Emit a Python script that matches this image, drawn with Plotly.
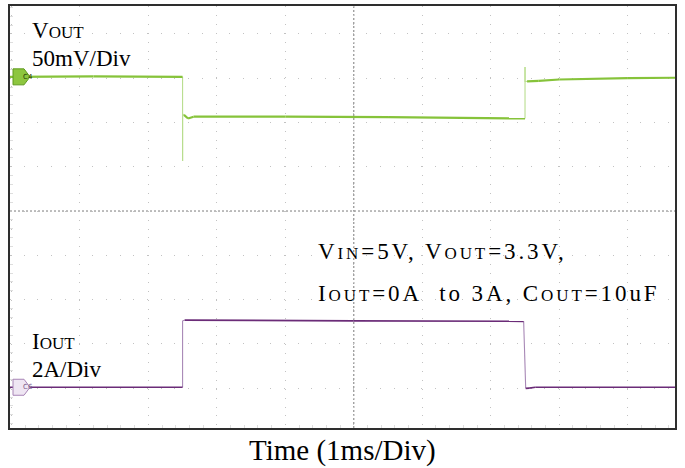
import plotly.graph_objects as go

# ---- scope settings -------------------------------------------------------
VOUT_SCALE = 50.0    # mV per division
VOUT_POS = 3.03      # channel 4 offset, divisions above screen centre
IOUT_SCALE = 2.0     # A per division
IOUT_POS = -3.98     # channel 6 offset, divisions (negative = below centre)

# visible screen window in divisions
X_DIV = [-5.02, 4.69]     # 1 ms/div, 0 = trigger point
Y_DIV = [-4.9, 4.63]

# ---- captured waveforms ---------------------------------------------------
# VOUT deviation (mV) during the 0 A -> 3 A -> 0 A load step
t_vout = [-5.02, -3.8, -2.5, -2.5, -2.5, -2.48, -2.42, -2.34, -1.0, 0.5, 2.5, 2.5, 2.5, 2.53, 2.7, 3.0, 4.0, 4.69]
vout_mv = [0.0, 0.5, 0.0, -95.0, -42.0, -43.0, -47.0, -45.0, -45.0, -45.5, -47.0, 11.0, -5.5, -5.0, -4.5, -3.0, -1.5, -1.0]

# IOUT (A)
t_iout = [-5.02, -2.5, -2.5, -2.47, 0.0, 2.48, 2.51, 2.56, 2.65, 4.69]
iout_a = [0.0, 0.0, 3.0, 3.03, 3.0, 2.98, -0.05, -0.04, 0.0, 0.0]

GREEN = "#86c33a"
GREEN_EDGE = "#b9de8e"
PURPLE = "#6b2c78"
PURPLE_EDGE = "#a888b6"
SERIF = "Liberation Serif"


def split_edges(xs, ys, min_dt=0.04):
    """Separate the fast transitions (drawn faint, as on the scope) from the settled trace."""
    fx, fy, ex, ey = [], [], [], []
    for i in range(len(xs) - 1):
        seg_x, seg_y = [xs[i], xs[i + 1], None], [ys[i], ys[i + 1], None]
        if abs(xs[i + 1] - xs[i]) < min_dt:
            ex += seg_x
            ey += seg_y
        else:
            fx += seg_x
            fy += seg_y
    return fx, fy, ex, ey


fig = go.Figure()

for xs, ys, axis, col, edge_col, w in [
        (t_vout, vout_mv, "y2", GREEN, GREEN_EDGE, 2.2),
        (t_iout, iout_a, "y3", PURPLE, PURPLE_EDGE, 1.7)]:
    fx, fy, ex, ey = split_edges(xs, ys)
    fig.add_trace(go.Scatter(x=ex, y=ey, mode="lines", yaxis=axis,
                             line=dict(color=edge_col, width=1.1),
                             hoverinfo="skip", showlegend=False))
    fig.add_trace(go.Scatter(x=fx, y=fy, mode="lines", yaxis=axis,
                             line=dict(color=col, width=w),
                             hoverinfo="skip", showlegend=False))

# channel axes mapped onto the same division grid
v_range = [(Y_DIV[0] - VOUT_POS) * VOUT_SCALE, (Y_DIV[1] - VOUT_POS) * VOUT_SCALE]
i_range = [(Y_DIV[0] - IOUT_POS) * IOUT_SCALE, (Y_DIV[1] - IOUT_POS) * IOUT_SCALE]

grid_col = "#c2c2c2"
axis_common = dict(dtick=1, tick0=0, showgrid=True, gridcolor=grid_col, gridwidth=1,
                   zeroline=False, showticklabels=False, ticks="",
                   showline=True, linecolor="#2e2e2e", linewidth=1.5, mirror=True,
                   fixedrange=True)
fig.update_layout(
    width=685, height=468,
    margin=dict(l=10, r=10, t=4, b=40),
    paper_bgcolor="white", plot_bgcolor="white",
    xaxis=dict(range=X_DIV, griddash="1px,7.9px",
               minor=dict(dtick=0.2, tick0=0, ticks="inside", ticklen=3,
                          tickcolor="#dedede", showgrid=False),
               **axis_common),
    yaxis=dict(range=Y_DIV, griddash="1px,12.7px",
               minor=dict(dtick=0.2, tick0=0, ticks="inside", ticklen=3,
                          tickcolor="#dedede", showgrid=False),
               **axis_common),
    yaxis2=dict(range=v_range, overlaying="y", visible=False, fixedrange=True),
    yaxis3=dict(range=i_range, overlaying="y", visible=False, fixedrange=True),
    showlegend=False,
)

# centre cross-hair of the graticule
fig.add_shape(type="line", xref="x", yref="paper", x0=0, x1=0, y0=0, y1=1,
              line=dict(color="#7a7a7a", width=1, dash="2px,2px"), layer="below")
fig.add_shape(type="line", xref="paper", yref="y", x0=0, x1=1, y0=0, y1=0,
              line=dict(color="#7a7a7a", width=1, dash="2px,2px"), layer="below")

# channel ground markers on the left edge
marker_path = "M 3,-8 L 14,-8 L 20,0 L 14,8 L 3,8 Z"
for yref, fill, edge, tag, tcol in [
        ("y2", "#8dc63f", "#5f9a1f", "C4", "#1f3a06"),
        ("y3", "#efe6f3", "#a884b6", "C6", "#7a5a88")]:
    fig.add_shape(type="path", xref="paper", yref=yref, xsizemode="pixel",
                  ysizemode="pixel", xanchor=0, yanchor=0, path=marker_path,
                  fillcolor=fill, line=dict(color=edge, width=1), layer="above")
    fig.add_annotation(xref="paper", yref=yref, x=0, y=0, xshift=11, text=tag,
                       showarrow=False, font=dict(size=7, color=tcol, family="DejaVu Sans"))


def seg(txt, size=None, spacing=None):
    style = []
    if size:
        style.append(f"font-size:{size}px")
    if spacing:
        style.append(f"letter-spacing:{spacing}px")
    return f"<span style='{';'.join(style)}'>{txt}</span>" if style else txt


def label(text, px_x, px_y, size=23):
    # px_x / px_y: left edge and vertical centre of the text line on the page
    fig.add_annotation(xref="paper", yref="paper",
                       x=(px_x - 10) / 665, y=1 - (px_y - 4) / 424,
                       xanchor="left", yanchor="middle", showarrow=False,
                       text=text, font=dict(family=SERIF, size=size, color="#000000"),
                       borderpad=0)


label("V" + seg("OUT", 17), 31, 29)
label("50mV/Div", 31, 57)
label("I" + seg("OUT", 17), 31, 341)
label("2A/Div", 31, 369)

LS = 2.9  # letter spacing of the operating-condition note
label(seg("V", None, LS) + seg("IN", 17, LS) + seg("=5V, V", None, LS)
      + seg("OUT", 17, LS) + seg("=3.3V,", None, LS), 317, 251)
label(seg("I", None, LS) + seg("OUT", 17, LS) + seg("=0A&nbsp; to 3A, C", None, LS)
      + seg("OUT", 17, LS) + seg("=10uF", None, LS), 317, 293)

fig.add_annotation(xref="paper", yref="paper", x=0.5, y=1 - (451 - 4) / 424,
                   xanchor="center", yanchor="middle", showarrow=False,
                   text="Time (1ms/Div)", font=dict(family=SERIF, size=29, color="#000000"))

fig.write_html("out.html")
